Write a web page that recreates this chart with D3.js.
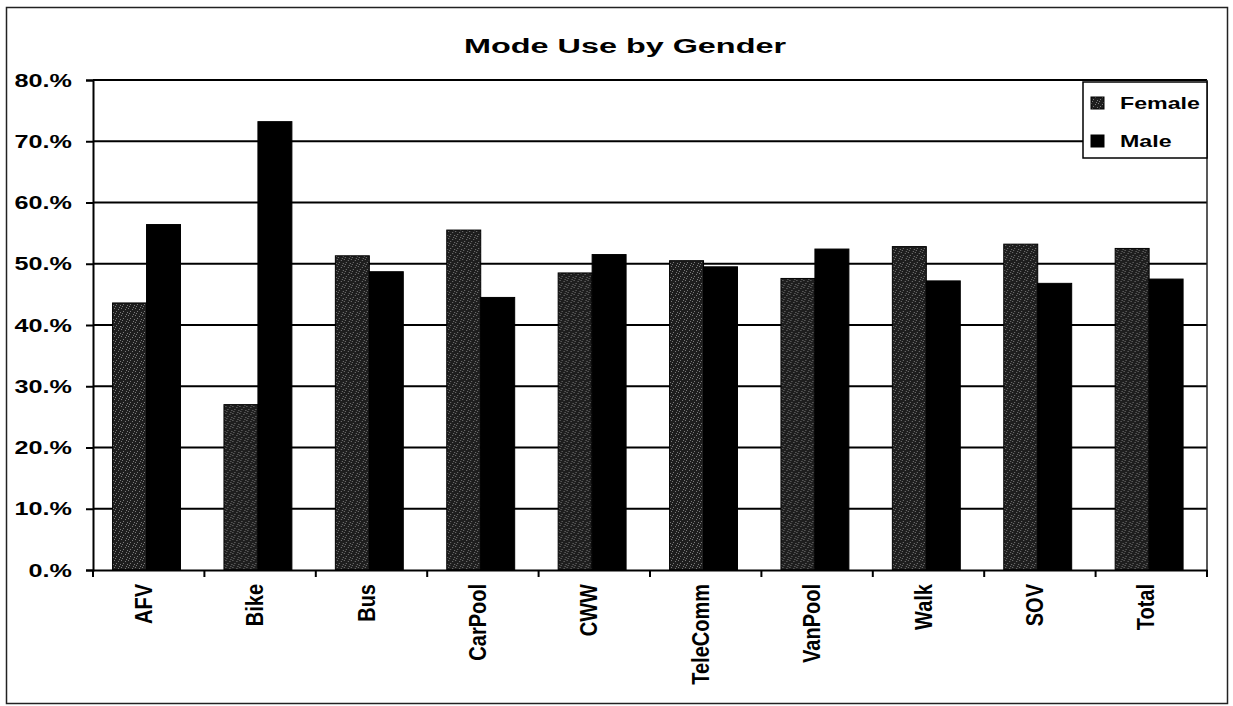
<!DOCTYPE html>
<html>
<head>
<meta charset="utf-8">
<script src="https://cdn.jsdelivr.net/npm/d3@7"></script>
<style>
  body { margin: 0; background: #fff; }
  text { font-family: "Liberation Sans", Arial, sans-serif; fill: #000; }
</style>
</head>
<body>
<div id="chart"></div>
<script>
var categories = ["AFV", "Bike", "Bus", "CarPool", "CWW", "TeleComm", "VanPool", "Walk", "SOV", "Total"];
var seriesNames = ["Female", "Male"];
var femaleValues = [0.436, 0.270, 0.513, 0.555, 0.485, 0.505, 0.476, 0.528, 0.532, 0.525];
var maleValues = [0.564, 0.732, 0.487, 0.445, 0.515, 0.495, 0.524, 0.472, 0.468, 0.475];
var yTicks = [0, 0.1, 0.2, 0.3, 0.4, 0.5, 0.6, 0.7, 0.8];
var yTickLabels = ["0.%", "10.%", "20.%", "30.%", "40.%", "50.%", "60.%", "70.%", "80.%"];

var svgWidth = 1233;
var svgHeight = 706;

var plot = { left: 93, right: 1207, top: 80, bottom: 570 };

var svg = d3.select("#chart")
  .append("svg")
  .attr("width", svgWidth)
  .attr("height", svgHeight);

// stippled dark grey fill for the female bars
var defs = svg.append("defs");
var pat = defs.append("pattern")
  .attr("id", "femaleFill")
  .attr("width", 7)
  .attr("height", 7)
  .attr("patternUnits", "userSpaceOnUse");
pat.append("rect").attr("width", 7).attr("height", 7).attr("fill", "#1e1e1e");
[[0, 0], [4, 1], [2, 3], [6, 4], [1, 5], [5, 6]].forEach(function(p) {
  pat.append("rect").attr("x", p[0]).attr("y", p[1]).attr("width", 1).attr("height", 1).attr("fill", "#7a7a7a");
});

// outer chart border
svg.append("rect")
  .attr("x", 6.5)
  .attr("y", 7.5)
  .attr("width", 1221)
  .attr("height", 696)
  .attr("fill", "none")
  .attr("stroke", "#222")
  .attr("stroke-width", 1.5);

// title
svg.append("text")
  .attr("transform", "translate(625,53) scale(1.62,1)")
  .attr("text-anchor", "middle")
  .attr("font-size", "20px")
  .attr("font-weight", "bold")
  .text("Mode Use by Gender");

var x0 = d3.scaleBand()
  .domain(categories)
  .range([plot.left, plot.right])
  .padding(0);

var x1 = d3.scaleBand()
  .domain(seriesNames)
  .range([0, x0.bandwidth()])
  .paddingInner(0)
  .paddingOuter(0.64)
  .align(0.45);

var y = d3.scaleLinear()
  .domain([0, 0.8])
  .range([plot.bottom, plot.top]);

// gridlines
svg.append("g")
  .selectAll("line")
  .data(yTicks.slice(1))
  .enter()
  .append("line")
  .attr("x1", plot.left)
  .attr("x2", plot.right)
  .attr("y1", function(d) { return y(d); })
  .attr("y2", function(d) { return y(d); })
  .attr("stroke", "#000")
  .attr("stroke-width", 2);

// right edge of the plot area
svg.append("line")
  .attr("x1", plot.right)
  .attr("x2", plot.right)
  .attr("y1", plot.top)
  .attr("y2", plot.bottom)
  .attr("stroke", "#222")
  .attr("stroke-width", 1.5);

// bars
var rows = categories.map(function(c, i) {
  return { cat: c, values: [femaleValues[i], maleValues[i]] };
});

var groups = svg.append("g")
  .selectAll("g")
  .data(rows)
  .enter()
  .append("g")
  .attr("transform", function(d) { return "translate(" + x0(d.cat) + ",0)"; });

groups.selectAll("rect")
  .data(function(d) {
    return seriesNames.map(function(s, j) { return { name: s, value: d.values[j] }; });
  })
  .enter()
  .append("rect")
  .attr("x", function(d) { return x1(d.name); })
  .attr("width", x1.bandwidth())
  .attr("y", function(d) { return y(d.value); })
  .attr("height", function(d) { return plot.bottom - y(d.value); })
  .attr("fill", function(d) { return d.name === "Female" ? "url(#femaleFill)" : "#000"; })
  .attr("stroke", "#000")
  .attr("stroke-width", 1);

// y axis
var leftAxis = d3.axisLeft(y)
  .tickValues(yTicks)
  .tickSize(7)
  .tickFormat("");

var yAxisG = svg.append("g")
  .attr("transform", "translate(" + plot.left + ",0)")
  .call(leftAxis);
yAxisG.selectAll("path, line").attr("stroke", "#000").attr("stroke-width", 2);

svg.append("g")
  .selectAll("text")
  .data(yTicks)
  .enter()
  .append("text")
  .attr("transform", function(d) { return "translate(72," + (y(d) + 6.5) + ") scale(1.4,1)"; })
  .attr("text-anchor", "end")
  .attr("font-size", "18px")
  .attr("font-weight", "bold")
  .text(function(d, i) { return yTickLabels[i]; });

// x axis
var bottomAxis = d3.axisBottom(x0)
  .tickSize(0)
  .tickFormat("");

var xAxisG = svg.append("g")
  .attr("transform", "translate(0," + plot.bottom + ")")
  .call(bottomAxis);
xAxisG.selectAll("path").attr("stroke", "#000").attr("stroke-width", 2);

// tick marks at the category boundaries
var bounds = categories.map(function(c) { return x0(c); }).concat([plot.right]);
svg.append("g")
  .selectAll("line")
  .data(bounds)
  .enter()
  .append("line")
  .attr("x1", function(d) { return d; })
  .attr("x2", function(d) { return d; })
  .attr("y1", plot.bottom)
  .attr("y2", plot.bottom + 7)
  .attr("stroke", "#000")
  .attr("stroke-width", 2);

// rotated category labels
svg.append("g")
  .selectAll("text")
  .data(categories)
  .enter()
  .append("text")
  .attr("transform", function(d) {
    return "translate(" + (x0(d) + x0.bandwidth() / 2 + 3) + ",584) rotate(-90) scale(1,1.15)";
  })
  .attr("text-anchor", "end")
  .attr("font-size", "20px")
  .attr("font-weight", "bold")
  .text(function(d) { return d; });

// legend
var legend = svg.append("g");
legend.append("rect")
  .attr("x", 1083)
  .attr("y", 82)
  .attr("width", 124)
  .attr("height", 76)
  .attr("fill", "#fff")
  .attr("stroke", "#000")
  .attr("stroke-width", 1.5);

var legendItems = legend.selectAll("g.item")
  .data(seriesNames)
  .enter()
  .append("g")
  .attr("class", "item")
  .attr("transform", function(d, i) { return "translate(1091," + (103 + i * 38) + ")"; });

legendItems.append("rect")
  .attr("x", 0)
  .attr("y", -6)
  .attr("width", 13)
  .attr("height", 12)
  .attr("fill", function(d) { return d === "Female" ? "url(#femaleFill)" : "#000"; })
  .attr("stroke", "#000");

legendItems.append("text")
  .attr("transform", "translate(29,6) scale(1.45,1)")
  .attr("font-size", "16px")
  .attr("font-weight", "bold")
  .text(function(d) { return d; });
</script>
</body>
</html>
